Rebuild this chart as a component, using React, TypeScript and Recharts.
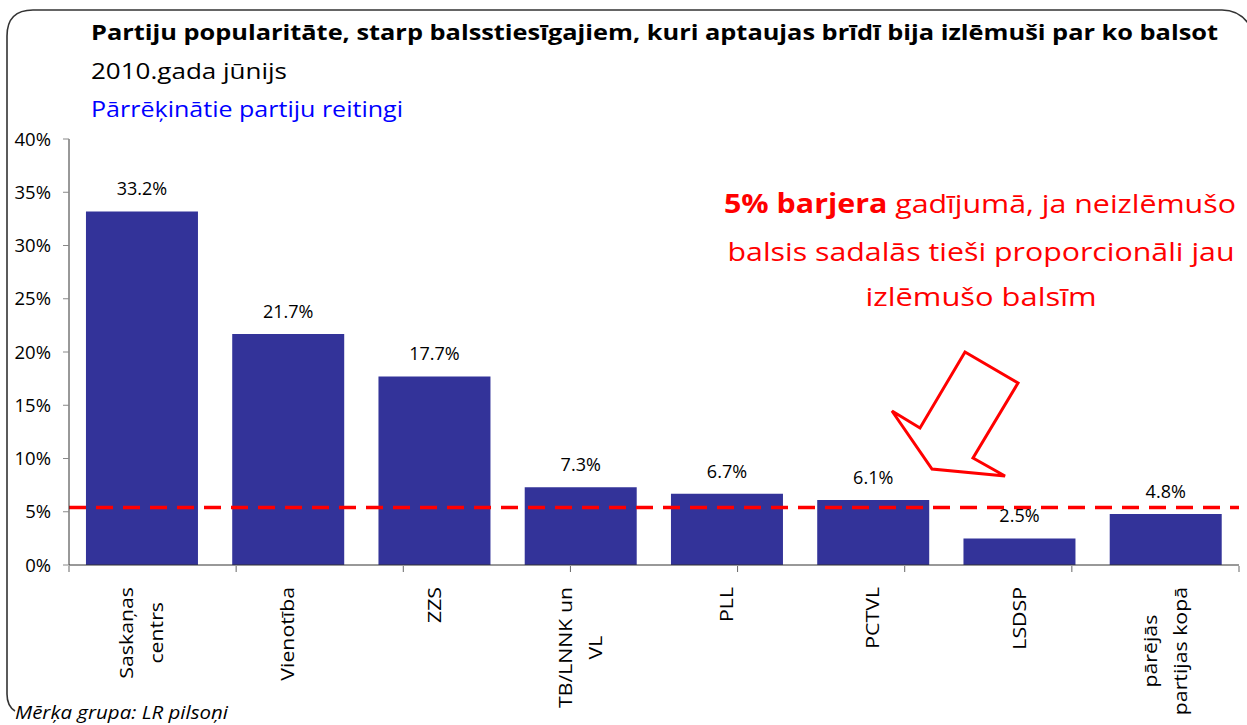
import { BarChart, Bar, XAxis, YAxis, LabelList, ReferenceLine } from "recharts";

const parties = [
  "Saskaņas\ncentrs",
  "Vienotība",
  "ZZS",
  "TB/LNNK un\nVL",
  "PLL",
  "PCTVL",
  "LSDSP",
  "pārējās\npartijas kopā",
];
const ratings = [33.2, 21.7, 17.7, 7.3, 6.7, 6.1, 2.5, 4.8];
const yTicks = [0, 5, 10, 15, 20, 25, 30, 35, 40];
const edgeTicks = [0, 1, 2, 3, 4, 5, 6, 7, 8];
const barrier = 5.4;

const title = "Partiju popularitāte, starp balsstiesīgajiem, kuri aptaujas brīdī bija izlēmuši par ko balsot";
const subtitle = "2010.gada jūnijs";
const subtitle2 = "Pārrēķinātie partiju reitingi";
const note = ["gadījumā, ja neizlēmušo", "balsis sadalās tieši proporcionāli jau", "izlēmušo balsīm"];
const source = "Mērķa grupa: LR pilsoņi";

const data = parties.map((name, i) => ({ name, value: ratings[i] }));

const FONT = "'Open Sans', 'Noto Sans', sans-serif";
const LABEL_SIZE = 19;
const STRETCH = 1.12; // the original text looks a bit stretched

let ctx: CanvasRenderingContext2D | null = null;
const measure = (s: string) => {
  if (!ctx) ctx = document.createElement("canvas").getContext("2d");
  if (!ctx) return s.length * LABEL_SIZE * 0.55;
  ctx.font = `${LABEL_SIZE}px ${FONT}`;
  return ctx.measureText(s).width * STRETCH;
};

// rotated, multi-line category labels, lines centred on each other
const PartyTick = (props: any) => {
  const { x, y, payload } = props;
  const lines: string[] = String(payload.value).split("\n");
  const widths = lines.map(measure);
  const maxW = Math.max(...widths);
  const gap = 22;
  return (
    <g transform={`translate(${x},${y}) rotate(-90)`}>
      {lines.map((l, i) => (
        <text
          key={i}
          x={-(gap + (maxW - widths[i]) / 2)}
          y={(i - (lines.length - 1) / 2) * 30 + 6}
          textAnchor="end"
          fontSize={LABEL_SIZE}
          fontFamily={FONT}
          textLength={widths[i]}
          lengthAdjust="spacingAndGlyphs"
          fill="#000"
        >
          {l}
        </text>
      ))}
    </g>
  );
};

const NoLabel = () => <g />;

export default function App() {
  return (
    <div style={{ position: "absolute", left: 0, top: 0, width: 1247, height: 725, background: "#fff", fontFamily: FONT }}>
      <BarChart
        width={1247}
        height={725}
        data={data}
        margin={{ top: 139, right: 8, left: 0, bottom: 158 }}
        barCategoryGap="11.6%"
      >
        {/* tick marks between categories, like Excel */}
        <XAxis
          xAxisId="edge"
          type="number"
          domain={[0, 8]}
          ticks={edgeTicks}
          allowDataOverflow
          interval={0}
          tick={<NoLabel />}
          axisLine={false}
          tickLine={{ stroke: "#666", strokeWidth: 1 }}
          tickSize={6}
          height={1}
        />
        <XAxis
          dataKey="name"
          interval={0}
          tickLine={false}
          tickSize={0}
          tickMargin={0}
          axisLine={{ stroke: "#333" }}
          tick={<PartyTick />}
          height={1}
        />
        <YAxis
          domain={[0, 40]}
          ticks={yTicks}
          tickFormatter={(v: number) => `${v}%`}
          width={69}
          tickSize={6}
          tickMargin={12}
          tickLine={{ stroke: "#888" }}
          axisLine={{ stroke: "#333" }}
          tick={{ fontSize: 18.5, fill: "#000", fontFamily: FONT }}
        />
        <Bar dataKey="value" fill="#333399" isAnimationActive={false}>
          <LabelList
            dataKey="value"
            position="top"
            offset={16}
            formatter={(v: any) => `${Number(v).toFixed(1)}%`}
            style={{ fontSize: 18, fill: "#000", fontFamily: FONT }}
          />
        </Bar>
        <ReferenceLine y={barrier} stroke="#ff0000" strokeWidth={3.5} strokeDasharray="17 10" />
      </BarChart>

      <svg width={1247} height={725} style={{ position: "absolute", left: 0, top: 0, pointerEvents: "none" }}>
        <path
          d="M 15 711 Q 7 706 7 694 L 7 36 Q 7 10 33 10 L 1222 10 Q 1240 10 1250 26"
          fill="none"
          stroke="#333"
          strokeWidth={1.6}
        />
        <text x={91} y={40} fontSize={21} fontWeight="bold" fontFamily={FONT} textLength={1127} lengthAdjust="spacingAndGlyphs">
          {title}
        </text>
        <text x={91} y={79} fontSize={21} fontFamily={FONT} textLength={196} lengthAdjust="spacingAndGlyphs">
          {subtitle}
        </text>
        <text x={91} y={117} fontSize={21} fill="#0000ff" fontFamily={FONT} textLength={312} lengthAdjust="spacingAndGlyphs">
          {subtitle2}
        </text>

        <g fill="#ff0000" fontFamily={FONT} fontSize={26} textAnchor="middle">
          <text x={980} y={213} textLength={512} lengthAdjust="spacingAndGlyphs">
            <tspan fontWeight="bold">5% barjera</tspan> {note[0]}
          </text>
          <text x={981} y={261} textLength={507} lengthAdjust="spacingAndGlyphs">
            {note[1]}
          </text>
          <text x={981} y={306} textLength={231} lengthAdjust="spacingAndGlyphs">
            {note[2]}
          </text>
        </g>

        <polygon
          points="965,352 1018,383 973,458 1005,476 932,469 892,411 920,428"
          fill="#fff"
          stroke="#ff0000"
          strokeWidth={3}
        />

        <text x={15} y={719} fontSize={19} fontStyle="italic" fontFamily={FONT} textLength={213} lengthAdjust="spacingAndGlyphs">
          {source}
        </text>
      </svg>
    </div>
  );
}
